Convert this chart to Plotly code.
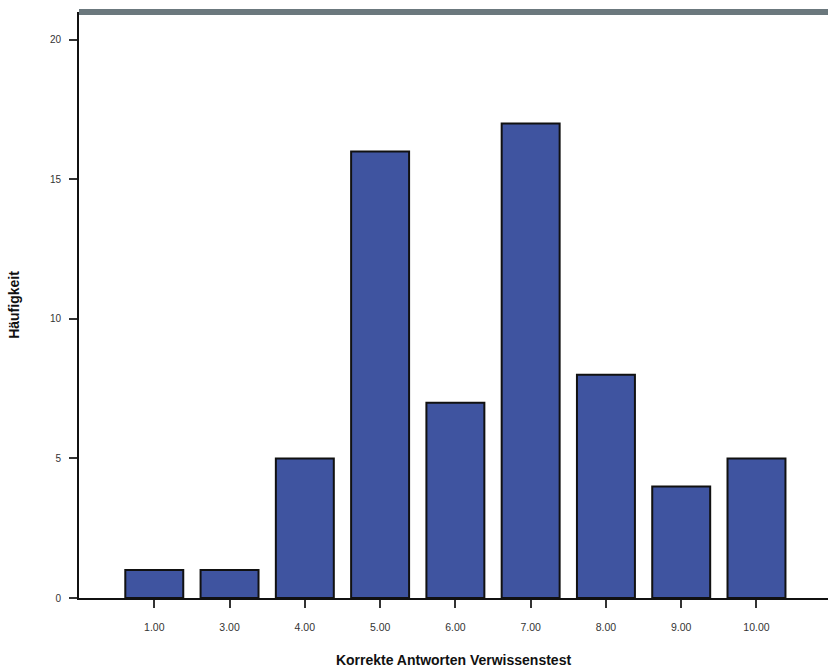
import plotly.graph_objects as go

categories = ["1.00", "3.00", "4.00", "5.00", "6.00", "7.00", "8.00", "9.00", "10.00"]
counts = [1, 1, 5, 16, 7, 17, 8, 4, 5]
y_ticks = [0, 5, 10, 15, 20]

fig = go.Figure()
fig.add_trace(go.Bar(
    x=categories, y=counts, width=0.77,
    marker=dict(color="#3f54a0", line=dict(color="#111111", width=2)),
))

fig.update_layout(
    width=828, height=669,
    margin=dict(l=79, r=0, t=12, b=71),
    plot_bgcolor="white", paper_bgcolor="white",
    showlegend=False,
    font=dict(family="Liberation Sans, Arial, sans-serif", color="#222222"),
)
fig.update_xaxes(
    type="category", range=[-1, 8.95],
    showline=True, linecolor="#111111", linewidth=2,
    ticks="outside", ticklen=8, tickwidth=2, tickcolor="#333333",
    ticklabelstandoff=10,
    tickfont=dict(size=10.5, color="#333333"),
    showgrid=False, zeroline=False,
    title=dict(text="<b>Korrekte Antworten Verwissenstest</b>", font=dict(size=14, color="#111111"), standoff=24),
)
fig.update_yaxes(
    range=[0, 21.0], tickvals=y_ticks,
    showline=True, linecolor="#111111", linewidth=2,
    ticks="outside", ticklen=8, tickwidth=2, tickcolor="#333333",
    ticklabelstandoff=6,
    tickfont=dict(size=10, color="#333333"),
    showgrid=False, zeroline=False,
    title=dict(text="<b>Häufigkeit</b>", font=dict(size=14, color="#111111"), standoff=27),
)
fig.add_shape(type="line", xref="paper", yref="paper", x0=0, x1=1, y0=1, y1=1,
              line=dict(color="#6b787d", width=6))

fig.write_html("out.html", config={"displayModeBar": False},
               post_script="document.body.style.margin='0';document.body.style.overflow='hidden';")
